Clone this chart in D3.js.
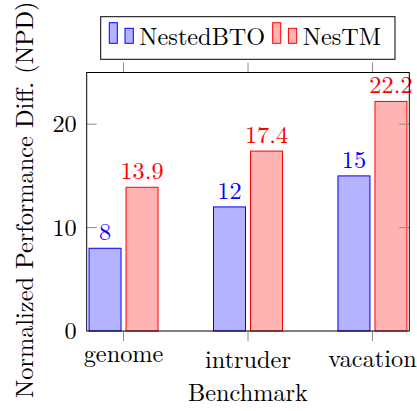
<!DOCTYPE html>
<html><head><meta charset="utf-8">
<script src="https://cdn.jsdelivr.net/npm/d3@7"></script>
<style>body{margin:0;background:#fff}svg{display:block}</style>
</head><body><svg id="c" width="417" height="411"></svg>
<script>
const categories = ["genome", "intruder", "vacation"];
const seriesNames = ["NestedBTO", "NesTM"];
const nestedBTO = [8, 12, 15];
const nesTM = [13.9, 17.4, 22.2];
const yTicks = [0, 10, 20];
const xLabel = "Benchmark";
const yLabel = "Normalized Performance Diff. (NPD)";

const FONT = "'Latin Modern Roman', 'Liberation Serif', serif";
const svg = d3.select("#c");
const L = 86.7, R = 409.3, T = 72.5, B = 331;
const x = d3.scaleLinear().domain([-0.296, 2.296]).range([L, R]);
const y = d3.scaleLinear().domain([0, 25]).range([B, T]);
const colors = [{fill:"#b3b3ff", stroke:"#0000ff"}, {fill:"#ffb3b3", stroke:"#ff0000"}];
const series = [nestedBTO, nesTM];
const barW = 32, shift = 18.5;
const FS = 24.3;

// bars
series.forEach((vals, s) => {
  const off = s === 0 ? -shift : shift;
  svg.append("g").selectAll("rect").data(vals).join("rect")
    .attr("x", (d, i) => x(i) + off - barW / 2)
    .attr("y", d => y(d))
    .attr("width", barW)
    .attr("height", d => B - y(d))
    .attr("fill", colors[s].fill)
    .attr("stroke", colors[s].stroke)
    .attr("stroke-width", 1);
  svg.append("g").selectAll("text").data(vals).join("text")
    .attr("x", (d, i) => x(i) + off)
    .attr("y", d => y(d) - 8)
    .attr("text-anchor", "middle")
    .attr("font-family", FONT)
    .attr("font-size", FS)
    .attr("fill", colors[s].stroke)
    .text(d => d);
});

// y ticks (inward, both sides)
const tickCol = "#8c8c8c";
svg.append("g").selectAll("line").data(yTicks.filter(t => t > 0)).join("line")
  .attr("x1", L).attr("x2", L + 10).attr("y1", d => y(d)).attr("y2", d => y(d))
  .attr("stroke", tickCol);
svg.append("g").selectAll("line").data(yTicks.filter(t => t > 0)).join("line")
  .attr("x1", R).attr("x2", R - 10).attr("y1", d => y(d)).attr("y2", d => y(d))
  .attr("stroke", tickCol);
svg.append("g").selectAll("text").data(yTicks).join("text")
  .attr("x", L - 10).attr("y", d => y(d) + 8)
  .attr("text-anchor", "end").attr("font-family", FONT).attr("font-size", FS).attr("fill", "#000")
  .text(d => d);

// x ticks (outward, top and bottom)
const idx = categories.map((c, i) => i);
svg.append("g").selectAll("line").data(idx).join("line")
  .attr("x1", d => x(d)).attr("x2", d => x(d)).attr("y1", B).attr("y2", B + 10)
  .attr("stroke", tickCol);
svg.append("g").selectAll("line").data(idx).join("line")
  .attr("x1", d => x(d)).attr("x2", d => x(d)).attr("y1", T).attr("y2", T - 10)
  .attr("stroke", tickCol);
const xLabOff = {genome: 0, intruder: 6.5, vacation: 5};
svg.append("g").selectAll("text").data(categories).join("text")
  .attr("x", (d, i) => x(i)).attr("y", d => 361.7 + xLabOff[d])
  .attr("text-anchor", "middle").attr("font-family", FONT).attr("font-size", FS)
  .text(d => d);

// frame
svg.append("rect").attr("x", L).attr("y", T).attr("width", R - L).attr("height", B - T)
  .attr("fill", "none").attr("stroke", "#000").attr("stroke-width", 1);

// axis labels
svg.append("text").attr("x", (L + R) / 2).attr("y", 400.7)
  .attr("text-anchor", "middle").attr("font-family", FONT).attr("font-size", FS)
  .text(xLabel);
svg.append("text").attr("transform", `translate(33,${(T + B) / 2 - 2}) rotate(-90)`)
  .attr("text-anchor", "middle").attr("font-family", FONT).attr("font-size", FS)
  .text(yLabel);

// legend
const lg = svg.append("g");
lg.append("rect").attr("x", 100.7).attr("y", 16.7).attr("width", 294.3).attr("height", 42.6)
  .attr("fill", "#fff").attr("stroke", "#000").attr("stroke-width", 1);
const legX = [109.3, 272.7];
seriesNames.forEach((name, s) => {
  const x0 = legX[s];
  lg.append("rect").attr("x", x0).attr("y", 22.7).attr("width", 8).attr("height", 20.6)
    .attr("fill", colors[s].fill).attr("stroke", colors[s].stroke);
  lg.append("rect").attr("x", x0 + 15.7).attr("y", 28.3).attr("width", 8.3).attr("height", 15)
    .attr("fill", colors[s].fill).attr("stroke", colors[s].stroke);
  lg.append("text").attr("x", x0 + 30).attr("y", 45).attr("font-family", FONT).attr("font-size", FS)
    .text(name);
});
</script></body></html>
